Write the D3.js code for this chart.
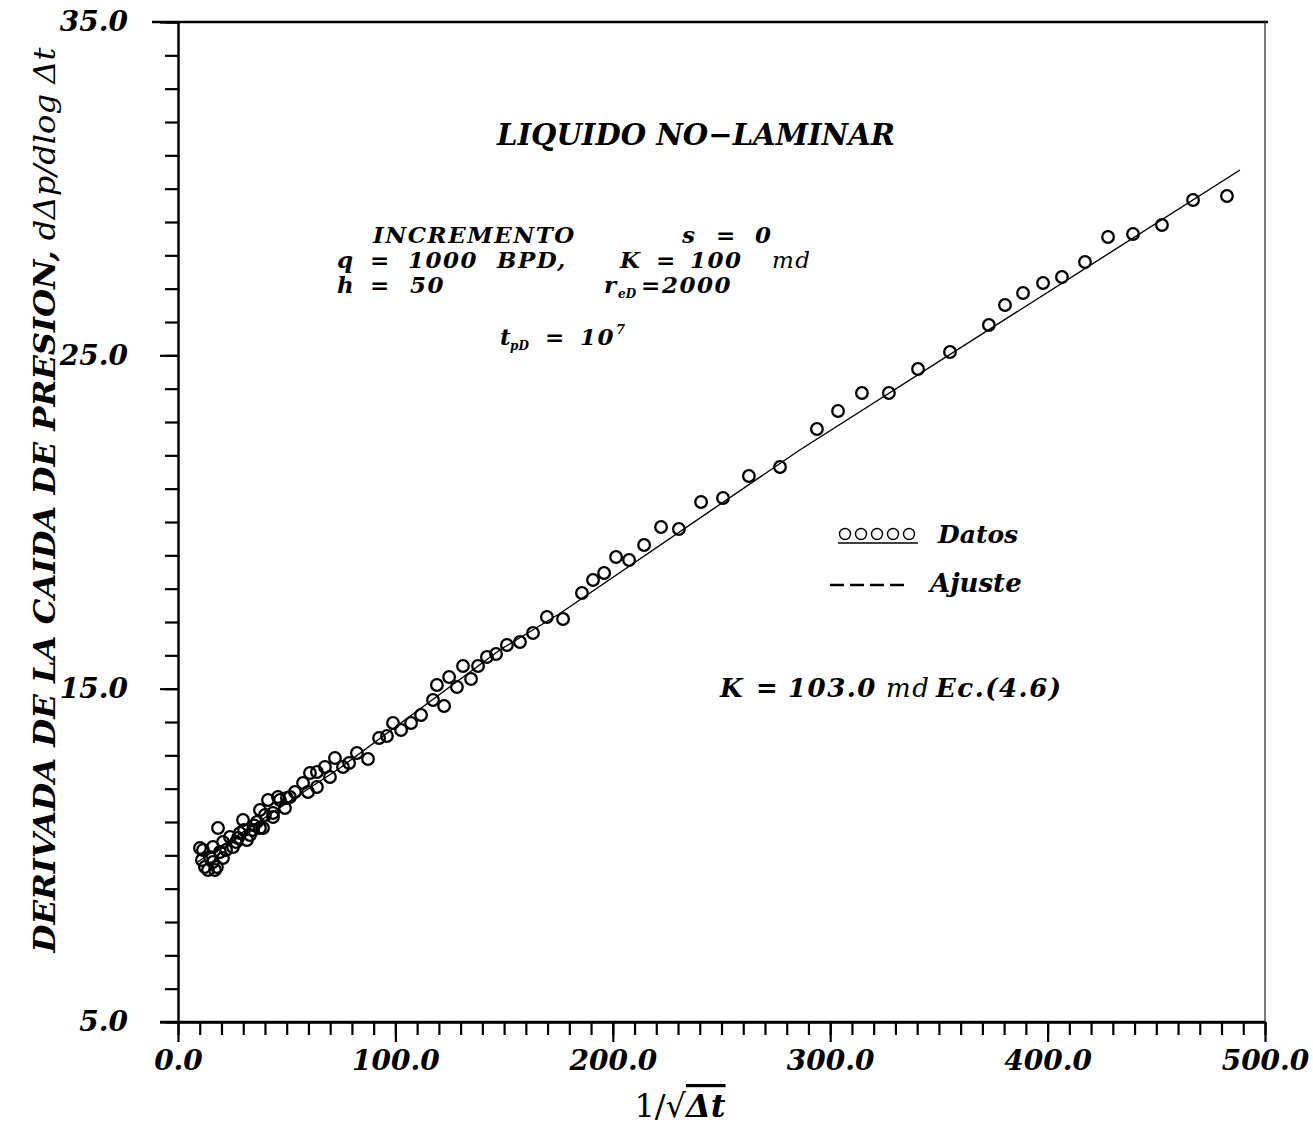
<!DOCTYPE html>
<html>
<head>
<meta charset="utf-8">
<script src="https://cdn.jsdelivr.net/npm/d3@7"></script>
<style>
  body { margin: 0; background: #fff; }
  svg text { font-family: "DejaVu Serif", serif; }
</style>
</head>
<body>
<div id="chart"></div>
<script>
// data: x = 1/sqrt(dt), y = d(dp)/dlog(dt)
const datosX = [10.1, 11.0, 11.5, 12.4, 13.8, 14.7, 16.1, 16.1, 17.0, 17.9, 18.4, 19.3, 20.7, 20.7, 22.1,
  23.9, 25.3, 26.7, 27.6, 28.5, 29.9, 30.4, 31.7, 33.1, 34.5, 35.0, 36.3, 37.7, 37.7, 39.1, 40.0,
  41.4, 43.7, 43.7, 46.0, 46.9, 49.2, 50.1, 51.5, 53.8, 57.5, 59.8, 60.7, 63.9, 63.9, 67.6, 69.9,
  72.2, 75.9, 78.7, 82.3, 87.4, 92.5, 96.1, 98.9, 102.6, 107.2, 111.8, 117.3, 119.1, 122.4, 124.7,
  128.3, 131.1, 134.8, 138.0, 142.1, 146.3, 151.3, 157.3, 163.3, 169.7, 177.1, 185.8, 190.9, 196.0,
  201.5, 207.5, 214.4, 222.2, 230.4, 240.6, 250.7, 262.6, 276.9, 293.9, 303.6, 314.6, 327.0, 340.4,
  355.1, 373.0, 380.4, 388.7, 397.9, 406.6, 417.2, 427.8, 439.3, 452.6, 466.9, 482.5];
const datosY = [10.22, 9.86, 10.16, 9.65, 9.56, 9.95, 10.25, 9.80, 9.56, 9.65, 10.82, 10.10, 10.40, 9.92, 10.16,
  10.55, 10.25, 10.40, 10.52, 10.67, 11.06, 10.76, 10.46, 10.61, 10.76, 10.90, 11.00, 10.82, 11.36, 10.82, 11.21,
  11.66, 11.15, 11.27, 11.75, 11.66, 11.42, 11.72, 11.75, 11.90, 12.17, 11.90, 12.47, 12.05, 12.50, 12.65, 12.35,
  12.92, 12.65, 12.77, 13.07, 12.89, 13.52, 13.58, 13.97, 13.76, 13.97, 14.21, 14.66, 15.11, 14.48, 15.35,
  15.05, 15.68, 15.29, 15.68, 15.95, 16.04, 16.31, 16.40, 16.67, 17.15, 17.09, 17.87, 18.26, 18.47,
  18.95, 18.86, 19.31, 19.85, 19.79, 20.60, 20.72, 21.38, 21.65, 22.79, 23.33, 23.87, 23.87, 24.59,
  25.10, 25.91, 26.51, 26.87, 27.17, 27.35, 27.80, 28.55, 28.64, 28.91, 29.66, 29.78];

// fitted curve (Ajuste)
const ajusteX = [9.0, 74.5, 148.0, 176.0, 286.0, 488.5];
const ajusteY = [9.8, 12.62, 16.16, 17.27, 22.16, 30.56];

const xTicks = [0, 100, 200, 300, 400, 500];
const yTicks = [5, 15, 25, 35];

const W = 1313, H = 1125;
const margin = {top: 22, right: 48, bottom: 103, left: 178};
const width = W - margin.left - margin.right,
      height = H - margin.top - margin.bottom;

const svg = d3.select("#chart").append("svg")
    .attr("width", W).attr("height", H);
const g = svg.append("g")
    .attr("transform", "translate(" + margin.left + "," + margin.top + ")");

const x = d3.scaleLinear().domain([0, 500]).range([0, width]);
const y = d3.scaleLinear().domain([5, 35]).range([height, 0]);

// frame (top and right)
g.append("line").attr("x1", -26).attr("x2", width + 3).attr("y1", 0).attr("y2", 0)
    .attr("stroke", "#000").attr("stroke-width", 2.5);
g.append("line").attr("x1", width).attr("x2", width).attr("y1", 0).attr("y2", height)
    .attr("stroke", "#333").attr("stroke-width", 1.3);

// x axis: minor ticks every 10, major every 100
g.append("g").attr("class", "axis")
    .attr("transform", "translate(0," + height + ")")
    .call(d3.axisBottom(x).tickValues(d3.range(0, 501, 10)).tickSize(13).tickFormat("").tickSizeOuter(0));
g.append("g").attr("class", "axis xmaj")
    .attr("transform", "translate(0," + height + ")")
    .call(d3.axisBottom(x).tickValues(xTicks).tickSize(20).tickPadding(8)
        .tickFormat(d3.format(".1f")).tickSizeOuter(0));

// y axis: ticks every 1
g.append("g").attr("class", "axis")
    .call(d3.axisLeft(y).tickValues(d3.range(5, 36, 1)).tickSize(13).tickFormat("").tickSizeOuter(0));
g.append("g").attr("class", "axis ymaj")
    .call(d3.axisLeft(y).tickValues(yTicks).tickSize(18).tickPadding(32)
        .tickFormat(d3.format(".1f")).tickSizeOuter(0));

g.selectAll(".axis path").attr("stroke", "#000").attr("stroke-width", 2.5);
g.selectAll(".axis line").attr("stroke", "#000").attr("stroke-width", 2.2);
g.selectAll(".xmaj text, .ymaj text")
    .attr("font-family", "DejaVu Serif").attr("font-weight", "bold").attr("font-style", "italic")
    .attr("font-size", 28).attr("fill", "#000");
g.select(".ymaj .domain").remove();
g.select(".xmaj .domain").attr("d", "M-18,0H" + width);

// fitted line
const fit = ajusteX.map((v, i) => [v, ajusteY[i]]);
g.append("path")
    .datum(fit)
    .attr("d", d3.line().x(d => x(d[0])).y(d => y(d[1])))
    .attr("fill", "none").attr("stroke", "#000").attr("stroke-width", 1.4);

// data circles
g.selectAll("circle.dato")
    .data(datosX.map((v, i) => [v, datosY[i]]))
    .enter().append("circle")
    .attr("class", "dato")
    .attr("cx", d => x(d[0])).attr("cy", d => y(d[1]))
    .attr("r", 5.8)
    .attr("fill", "none").attr("stroke", "#000").attr("stroke-width", 2.3);

// annotations: each piece placed on its own x, like the original typewriter layout
const bi = sel => sel.attr("font-weight", "bold").attr("font-style", "italic").attr("fill", "#000");
function label(yPos, size, pieces) {
  const t = bi(svg.append("text").attr("y", yPos).attr("font-size", size)
      .attr("letter-spacing", 1.5));
  pieces.forEach(p => {
    const s = t.append("tspan").attr("x", p[1]).attr("y", yPos).text(p[0]);
    if (p[2] === "md") s.attr("font-weight", "normal");
  });
  return t;
}

bi(svg.append("text").attr("x", 497).attr("y", 145).attr("font-size", 29)
    .attr("textLength", 398).attr("lengthAdjust", "spacingAndGlyphs")
    .text("LIQUIDO  NO\u2212LAMINAR"));

label(243, 23, [["INCREMENTO", 373], ["s", 682], ["=", 716], ["0", 755]]);
label(268, 23, [["q", 337], ["=", 370], ["1000", 408], ["BPD,", 497], ["K", 620], ["=", 656], ["100", 690], ["md", 772, "md"]]);
const hl = label(293, 23, [["h", 337], ["=", 370], ["50", 410], ["r", 604], ["=", 641], ["2000", 662]]);
hl.append("tspan").attr("x", 618).attr("y", 298).attr("font-size", 12).attr("letter-spacing", 0).text("eD");

const tl = label(345, 23, [["t", 500], ["=", 545], ["10", 580]]);
tl.append("tspan").attr("x", 510).attr("y", 350).attr("font-size", 12).attr("letter-spacing", 0).text("pD");
tl.append("tspan").attr("x", 616).attr("y", 334).attr("font-size", 13).text("7");

// legend
const legG = svg.append("g");
legG.selectAll("circle")
    .data(d3.range(5))
    .enter().append("circle")
    .attr("cx", i => 845 + i * 16).attr("cy", 534).attr("r", 5.5)
    .attr("fill", "none").attr("stroke", "#000").attr("stroke-width", 1.4);
legG.append("line").attr("x1", 838).attr("x2", 918).attr("y1", 543).attr("y2", 543)
    .attr("stroke", "#000").attr("stroke-width", 1.5);
bi(legG.append("text").attr("x", 938).attr("y", 543).attr("font-size", 25).text("Datos"));
legG.append("line").attr("x1", 830).attr("x2", 905).attr("y1", 585).attr("y2", 585)
    .attr("stroke", "#000").attr("stroke-width", 2.5).attr("stroke-dasharray", "14,6");
bi(legG.append("text").attr("x", 930).attr("y", 592).attr("font-size", 26).text("Ajuste"));

label(697, 26, [["K", 720], ["=", 756], ["103.0", 788], ["md", 886, "md"], ["Ec.(4.6)", 936]]);

// axis titles
const xt = svg.append("text").attr("x", 680).attr("y", 1117).attr("text-anchor", "middle")
    .attr("font-size", 32).attr("fill", "#000");
xt.append("tspan").text("1/\u221A");
xt.append("tspan").attr("font-weight", "bold").attr("font-style", "italic")
    .style("text-decoration", "overline").text("\u0394t");

const yt = svg.append("text")
    .attr("transform", "translate(55,500) rotate(-90)")
    .attr("text-anchor", "middle").attr("font-size", 29).attr("fill", "#000")
    .attr("textLength", 905).attr("lengthAdjust", "spacingAndGlyphs");
yt.append("tspan").attr("font-weight", "bold").attr("font-style", "italic")
    .text("DERIVADA DE LA CAIDA DE PRESION,");
yt.append("tspan").attr("font-style", "italic").text(" d\u0394p/dlog \u0394t");
</script>
</body>
</html>
